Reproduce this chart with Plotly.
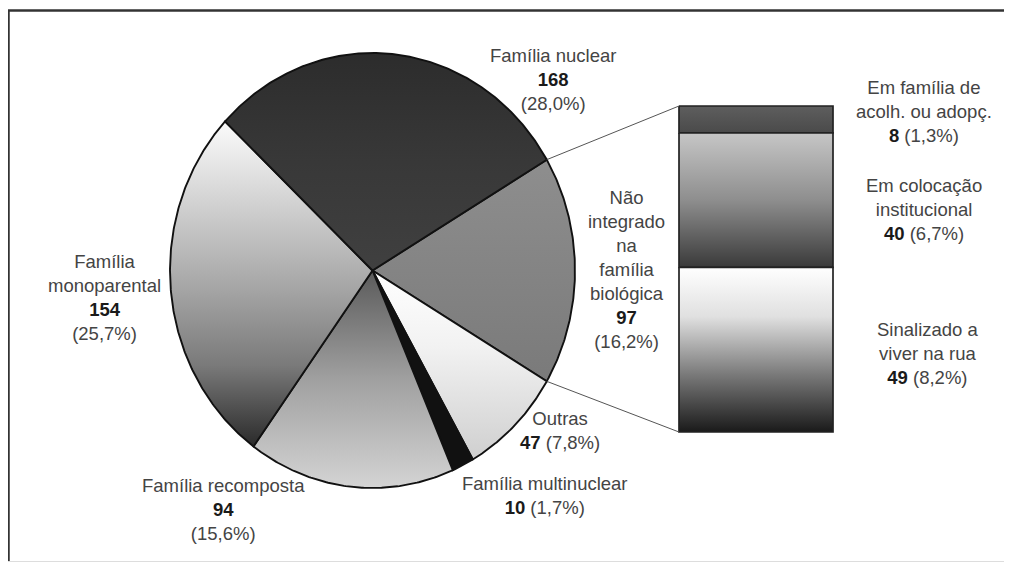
import numpy as np
import plotly.graph_objects as go

W, H = 1012, 564
OFF = 8  # browser default body margin compensation

# ---------------- data ----------------
pie_labels = ["Não integrado na família biológica", "Outras", "Família multinuclear",
              "Família recomposta", "Família monoparental", "Família nuclear"]
pie_values = [97, 47, 10, 94, 154, 168]
pie_pct = ["16,2%", "7,8%", "1,7%", "15,6%", "25,7%", "28,0%"]

bar_labels = ["Em família de acolh. ou adopç.", "Em colocação institucional",
              "Sinalizado a viver na rua"]
bar_values = [8, 40, 49]
bar_pct = ["1,3%", "6,7%", "8,2%"]

# ---------------- layout constants (pixels) ----------------
CX, CY = 372.5, 270.5          # pie centre
RX, RY = 202.5, 217.5          # pie radii
BX0, BX1 = 679, 833            # bar box
BY0, BY1 = 106, 432


def Y(py):
    return H - py


# gradient colour scales (0 = bottom, 1 = top)
pie_grad = [
    [[0, "#7a7a7a"], [1, "#8e8e8e"]],
    [[0, "#cfcfcf"], [0.6, "#f2f2f2"], [1, "#ffffff"]],
    [[0, "#111111"], [1, "#111111"]],
    [[0, "#d4d4d4"], [0.5, "#a0a0a0"], [1, "#5a5a5a"]],
    [[0, "#2a2a2a"], [0.25, "#7a7a7a"], [0.5, "#a8a8a8"], [0.75, "#d2d2d2"], [1, "#fbfbfb"]],
    [[0, "#404040"], [0.5, "#383838"], [1, "#2c2c2c"]],
]
bar_grad = [
    [[0, "#4a4a4a"], [1, "#5e5e5e"]],
    [[0, "#3a3a3a"], [0.5, "#8e8e8e"], [1, "#c6c6c6"]],
    [[0, "#1a1a1a"], [0.35, "#7a7a7a"], [0.7, "#e0e0e0"], [1, "#ffffff"]],
]

fig = go.Figure()

total = sum(pie_values)
angles = [v / total * 360 for v in pie_values]
start = 90 - angles[0] / 2
edges = [start]
for a in angles:
    edges.append(edges[-1] + a)


def ept(theta_deg):
    t = np.radians(theta_deg)
    return CX + RX * np.sin(t), Y(CY - RY * np.cos(t))


for i, (lab, v) in enumerate(zip(pie_labels, pie_values)):
    a0, a1 = edges[i], edges[i + 1]
    th = np.linspace(a0, a1, max(int((a1 - a0) * 2), 8))
    xs = [CX] + [ept(t)[0] for t in th] + [CX]
    ys = [Y(CY)] + [ept(t)[1] for t in th] + [Y(CY)]
    yb = min(ys)
    yt = max(ys)
    fig.add_trace(go.Scatter(
        x=xs, y=ys, mode="lines", fill="toself",
        fillgradient=dict(type="vertical", colorscale=pie_grad[i], start=yb, stop=yt),
        line=dict(color="#111111", width=1.9), hoverinfo="skip", name=lab))

# bar of pie
btot = sum(bar_values)
cur = BY0
for i, (lab, v) in enumerate(zip(bar_labels, bar_values)):
    h = v / btot * (BY1 - BY0)
    y0, y1 = Y(cur), Y(cur + h)
    fig.add_trace(go.Scatter(
        x=[BX0, BX1, BX1, BX0, BX0], y=[y0, y0, y1, y1, y0], mode="lines", fill="toself",
        fillgradient=dict(type="vertical", colorscale=bar_grad[i], start=y1, stop=y0),
        line=dict(color="#222222", width=1.7), hoverinfo="skip", name=lab))
    cur += h

# connector lines
p0 = ept(edges[0])
p1 = ept(edges[1])
fig.add_trace(go.Scatter(x=[p0[0], BX0], y=[p0[1], Y(BY0)], mode="lines",
                         line=dict(color="#555555", width=1), hoverinfo="skip"))
fig.add_trace(go.Scatter(x=[p1[0], BX0], y=[p1[1], Y(BY1)], mode="lines",
                         line=dict(color="#555555", width=1), hoverinfo="skip"))

# labels
LC = "#444444"


def num(v):
    return f"<b><span style='color:#1a1a1a'>{v}</span></b>"


pie_text = [
    "Não<br>integrado<br>na<br>família<br>biológica<br>" + num(pie_values[0]) + f"<br>({pie_pct[0]})",
    "Outras<br>" + num(pie_values[1]) + f" ({pie_pct[1]})",
    "Família multinuclear<br>" + num(pie_values[2]) + f" ({pie_pct[2]})",
    "Família recomposta<br>" + num(pie_values[3]) + f"<br>({pie_pct[3]})",
    "Família<br>monoparental<br>" + num(pie_values[4]) + f"<br>({pie_pct[4]})",
    "Família nuclear<br>" + num(pie_values[5]) + f"<br>({pie_pct[5]})",
]
pie_pos = [(626, 269), (560, 430), (545, 495), (223, 509), (104, 297), (553, 79)]

bar_text = [
    "Em família de<br>acolh. ou adopç.<br>" + num(bar_values[0]) + f" ({bar_pct[0]})",
    "Em colocação<br>institucional<br>" + num(bar_values[1]) + f" ({bar_pct[1]})",
    "Sinalizado a<br>viver na rua<br>" + num(bar_values[2]) + f" ({bar_pct[2]})",
]
bar_pos = [(924, 111), (924, 209), (928, 353)]

for t, (px, py) in zip(pie_text + bar_text, pie_pos + bar_pos):
    fig.add_annotation(x=px, y=Y(py), text=t, showarrow=False, xanchor="center",
                       yanchor="middle", align="center",
                       font=dict(size=18.5, color=LC, family="Liberation Sans, Arial, sans-serif"))

# frame
fig.add_shape(type="line", x0=7, x1=W + OFF, y0=Y(10.5), y1=Y(10.5), line=dict(color="#333333", width=2.5))
fig.add_shape(type="line", x0=8.5, x1=8.5, y0=Y(10), y1=Y(562), line=dict(color="#333333", width=2.5))
fig.add_shape(type="line", x0=8, x1=W + OFF, y0=Y(561.5), y1=Y(561.5), line=dict(color="#dddddd", width=1))

fig.update_layout(
    width=W, height=H, margin=dict(l=0, r=0, t=0, b=0),
    xaxis=dict(range=[OFF, W + OFF], visible=False, fixedrange=True),
    yaxis=dict(range=[-OFF, H - OFF], visible=False, fixedrange=True),
    showlegend=False, plot_bgcolor="white", paper_bgcolor="white",
)

fig.write_html("out.html")
